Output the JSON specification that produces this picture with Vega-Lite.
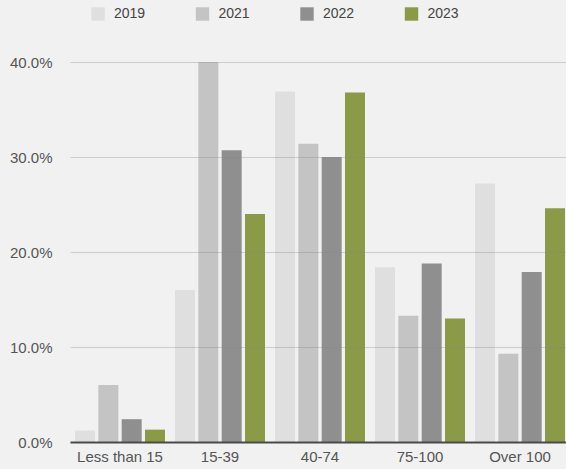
{
  "$schema": "https://vega.github.io/schema/vega-lite/v6.json",
  "width": 500,
  "height": 380,
  "autosize": {"type": "none"},
  "padding": {"left": 70, "top": 62, "right": 0, "bottom": 27},
  "background": "#f1f1f1",
  "config": {
    "view": {"stroke": null},
    "font": "Liberation Sans",
    "axis": {"labelFont": "Liberation Sans", "labelColor": "#555555", "labelFontSize": 15}
  },
  "data": {
    "values": [
      {"group": "Less than 15", "year": "2019", "value": 1.2},
      {"group": "Less than 15", "year": "2021", "value": 6.0},
      {"group": "Less than 15", "year": "2022", "value": 2.4},
      {"group": "Less than 15", "year": "2023", "value": 1.3},
      {"group": "15-39", "year": "2019", "value": 16.0},
      {"group": "15-39", "year": "2021", "value": 40.0},
      {"group": "15-39", "year": "2022", "value": 30.7},
      {"group": "15-39", "year": "2023", "value": 24.0},
      {"group": "40-74", "year": "2019", "value": 36.9},
      {"group": "40-74", "year": "2021", "value": 31.4},
      {"group": "40-74", "year": "2022", "value": 30.0},
      {"group": "40-74", "year": "2023", "value": 36.8},
      {"group": "75-100", "year": "2019", "value": 18.4},
      {"group": "75-100", "year": "2021", "value": 13.3},
      {"group": "75-100", "year": "2022", "value": 18.8},
      {"group": "75-100", "year": "2023", "value": 13.0},
      {"group": "Over 100", "year": "2019", "value": 27.2},
      {"group": "Over 100", "year": "2021", "value": 9.3},
      {"group": "Over 100", "year": "2022", "value": 17.9},
      {"group": "Over 100", "year": "2023", "value": 24.6}
    ]
  },
  "mark": {"type": "bar"},
  "encoding": {
    "x": {
      "field": "group",
      "type": "nominal",
      "sort": null,
      "scale": {"paddingInner": 0.1, "paddingOuter": 0.05},
      "axis": {
        "title": null,
        "labelAngle": 0,
        "ticks": false,
        "domainColor": "#4a4a4a",
        "domainWidth": 2,
        "labelPadding": 7,
        "zindex": 1
      }
    },
    "xOffset": {
      "field": "year",
      "type": "nominal",
      "scale": {"paddingInner": 0.143, "paddingOuter": 0}
    },
    "y": {
      "field": "value",
      "type": "quantitative",
      "scale": {"domain": [0, 40], "nice": false},
      "axis": {
        "title": null,
        "values": [0, 10, 20, 30, 40],
        "labelExpr": "format(datum.value, '.1f') + '%'",
        "ticks": false,
        "domain": false,
        "gridColor": "#888888",
        "gridOpacity": 0.35,
        "labelPadding": 18,
        "zindex": 1
      }
    },
    "color": {
      "field": "year",
      "type": "nominal",
      "scale": {
        "domain": ["2019", "2021", "2022", "2023"],
        "range": ["#dfdfdf", "#c4c4c4", "#8f8f8f", "#8a9a46"]
      },
      "legend": {
        "title": null,
        "orient": "none",
        "direction": "horizontal",
        "legendX": 21,
        "legendY": -55,
        "symbolType": "square",
        "symbolSize": 180,
        "symbolStrokeWidth": 0,
        "labelFontSize": 14,
        "labelFont": "Liberation Sans",
        "labelColor": "#444444",
        "labelOffset": 9,
        "columnPadding": 49.5,
        "padding": 0
      }
    }
  }
}
